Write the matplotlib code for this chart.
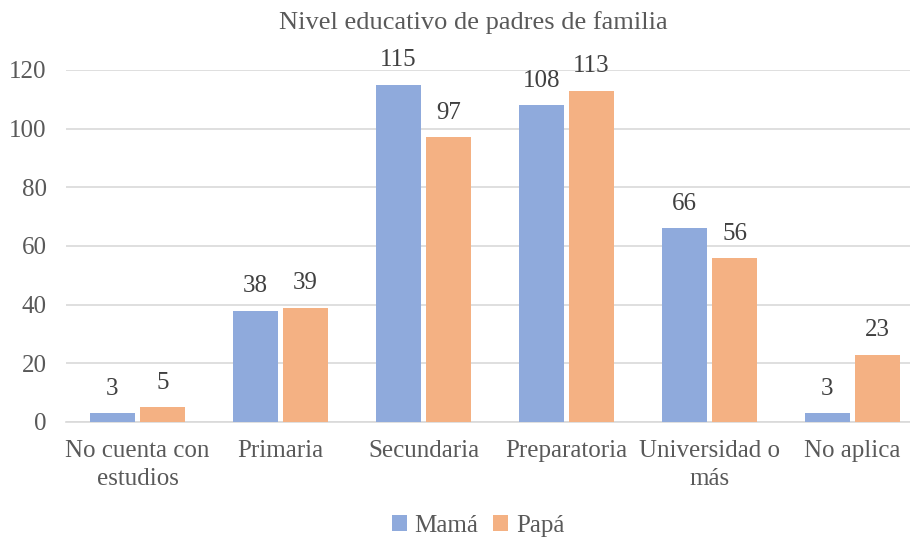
import numpy as np
import matplotlib
matplotlib.use("Agg")
import matplotlib.pyplot as plt

plt.rcParams['font.family'] = ['Liberation Serif', 'DejaVu Serif']

categorias = ['No cuenta con\nestudios', 'Primaria', 'Secundaria', 'Preparatoria', 'Universidad o\nmás', 'No aplica']
mama = [3, 38, 115, 108, 66, 3]
papa = [5, 39, 97, 113, 56, 23]

col_mama = '#8FAADC'
col_papa = '#F4B183'
gris = '#595959'

fig = plt.figure(figsize=(9.1, 5.37), dpi=100)
ax = fig.add_axes([66/910, 1 - 422/537, 858/910, 352/537])

x = np.arange(len(categorias))
w = 0.315
b1 = ax.bar(x - 0.175, mama, w, color=col_mama, label='Mamá', zorder=3)
b2 = ax.bar(x + 0.175, papa, w, color=col_papa, label='Papá', zorder=3)

for bars in (b1, b2):
    for r in bars:
        ax.text(r.get_x() + r.get_width()/2, r.get_height() + 4.5, str(int(r.get_height())),
                ha='center', va='bottom', fontsize=18, color='#404040')

ax.set_ylim(0, 120)
ax.set_xlim(-0.5, len(categorias) - 0.5)
ax.set_yticks(range(0, 121, 20))
ax.yaxis.grid(True, color='#D9D9D9', linewidth=1.2, zorder=0)
ax.set_xticks(x)
ax.set_xticklabels(categorias, fontsize=18, color=gris, linespacing=1.35)
ax.tick_params(axis='y', labelsize=18, labelcolor=gris, length=0, pad=14)
ax.tick_params(axis='x', length=0, pad=13)
for s in ['top', 'right', 'left']:
    ax.spines[s].set_visible(False)
ax.spines['bottom'].set_color('#D9D9D9')
ax.spines['bottom'].set_linewidth(1.2)

fig.text(473/910, 1 - 23/537, 'Nivel educativo de padres de familia', ha='center', va='center',
         fontsize=19, color=gris)
fig.legend(handles=[b1, b2], loc='center', bbox_to_anchor=(478/910, 1 - 526/537), ncol=2,
           frameon=False, fontsize=18, labelcolor=gris, handlelength=0.6, handleheight=0.6,
           handletextpad=0.3, columnspacing=0.6, borderpad=0)

fig.savefig('out.png', dpi=100)
